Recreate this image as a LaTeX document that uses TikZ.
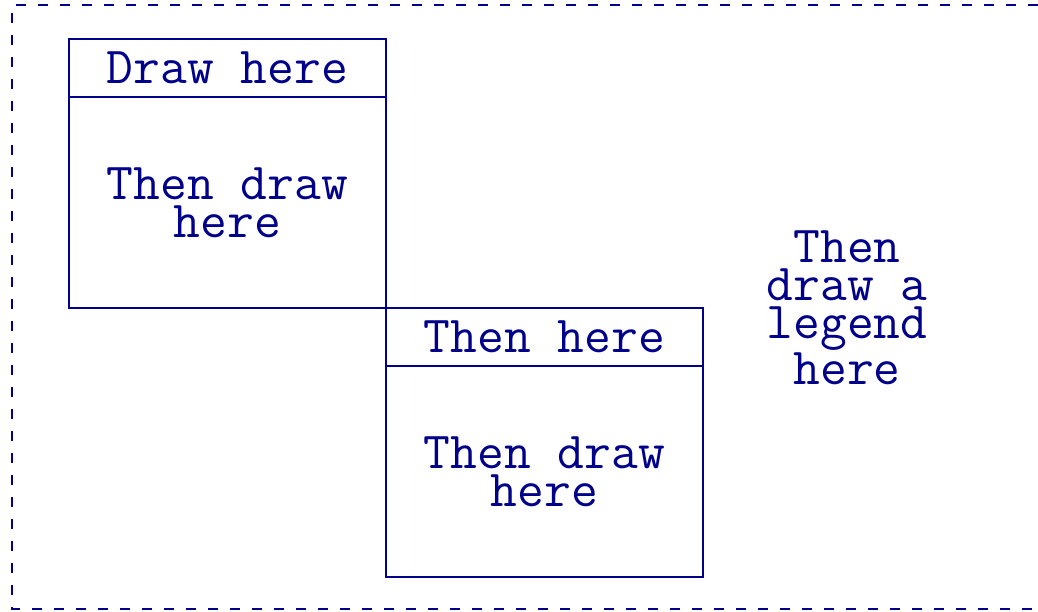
\documentclass[tikz,border=0pt]{standalone}
\usepackage{xcolor}
\usepackage{tikz}
\definecolor{ink}{HTML}{00008B}
\usetikzlibrary{positioning}

\begin{document}
\begin{tikzpicture}[
  x=0.5pt,y=-0.5pt,
  txt/.style={font=\ttfamily\fontsize{26}{19}\selectfont,text=ink,align=center},
  headbox/.style={txt,draw=ink,line width=1pt,inner sep=0pt,outer sep=0pt,
                  minimum width=158.5pt,minimum height=29pt},
  bodybox/.style={headbox,minimum height=105.5pt},
  frame/.style={draw=ink,line width=1pt,dash pattern=on 5pt off 6pt}]
  \useasboundingbox (0,0) rectangle (1038,611);
  % dashed outer frame, runs off the right edge
  \draw[frame] (1060,5) -- (12,5) -- (12,609) -- (1060,609);
  \node[headbox] (h1) at (227.5,68) {Draw here};
  \node[bodybox,below=0pt of h1] (b1) {Then draw\\here};
  \node[headbox,anchor=north west] (h2) at (b1.south east) {Then here};
  \node[bodybox,below=0pt of h2] (b2) {Then draw\\here};
  \node[txt] (lg) at (847,308) {Then\\draw a\\legend\\here};
\end{tikzpicture}
\end{document}
